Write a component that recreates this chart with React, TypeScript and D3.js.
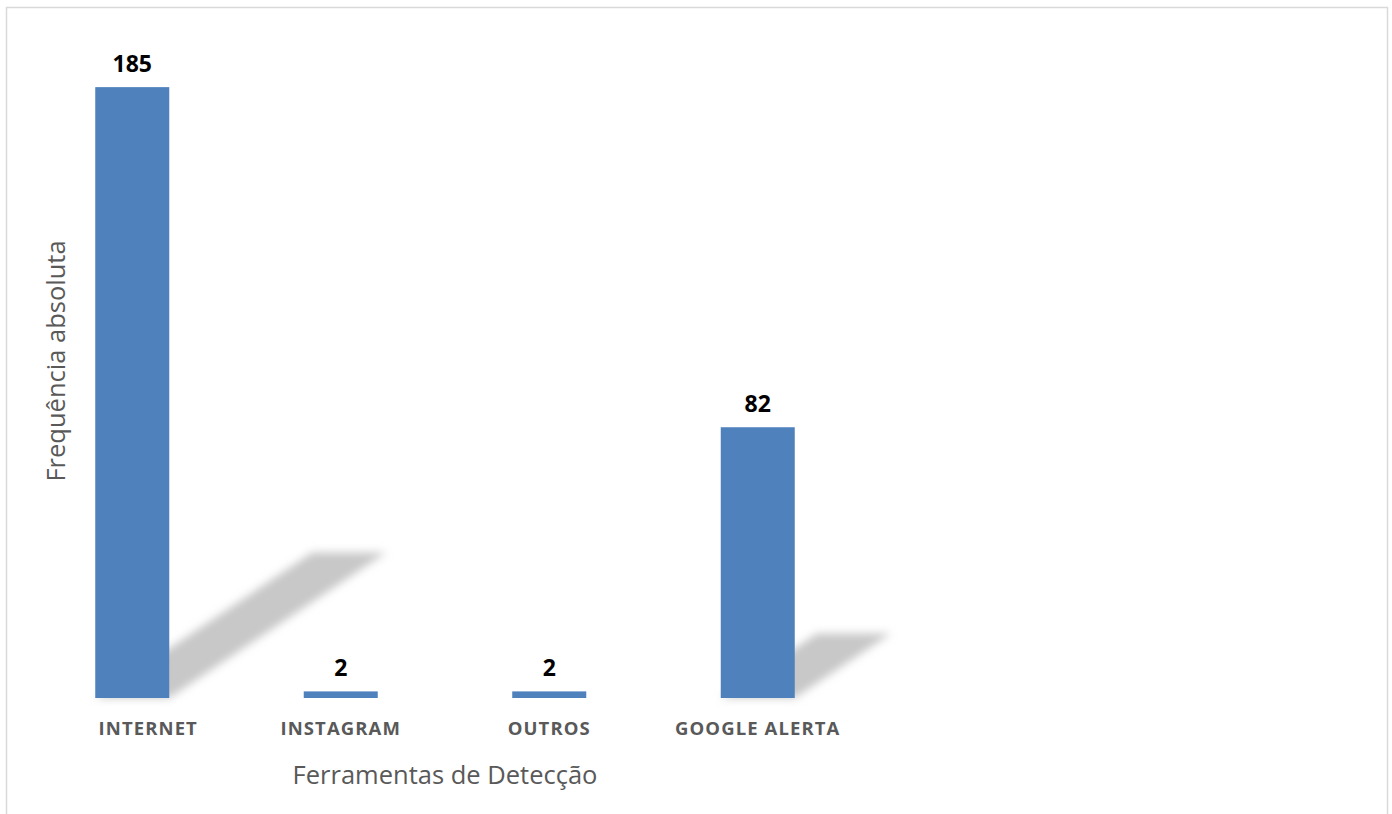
import React from "react";
import * as d3 from "d3";

const categories = ["INTERNET", "INSTAGRAM", "OUTROS", "GOOGLE ALERTA"];
const values = [185, 2, 2, 82];
const xTitle = "Ferramentas de Detecção";
const yTitle = "Frequência absoluta";

const W = 1392;
const H = 814;
// small horizontal nudge of the category labels (the first label sits right of its bar)
const labelNudge = [16, 0, 0, 0];

export default function App() {
  const x = d3
    .scaleBand<string>()
    .domain(categories)
    .range([28, 862])
    .paddingInner(0.645)
    .paddingOuter(0.3225);
  const y = d3.scaleLinear().domain([0, 200]).range([698, 37.6]);
  const base = y(0);
  const font = "'Open Sans', sans-serif";

  const shadowPath = (v: number, x0: number, x1: number) => {
    const h = base - y(v);
    const dx = h * 0.355;
    const dy = h * 0.238;
    const p = d3.path();
    p.moveTo(x0, base);
    p.lineTo(x1, base);
    p.lineTo(x1 + dx, base - dy);
    p.lineTo(x0 + dx, base - dy);
    p.closePath();
    return p.toString();
  };

  return (
    <svg
      width={W}
      height={H}
      style={{ position: "absolute", left: 0, top: 0, background: "#fff" }}
    >
      <defs>
        <filter id="blur" x="-20%" y="-20%" width="140%" height="140%">
          <feGaussianBlur stdDeviation="4" />
        </filter>
      </defs>
      <rect x={6.5} y={7.5} width={1381} height={830} fill="#fff" stroke="#d9d9d9" strokeWidth={1.5} />
      <g filter="url(#blur)">
        {categories.map((c, i) => {
          const x0 = x(c)!;
          const x1 = x0 + x.bandwidth();
          return values[i] > 10 ? (
            <path key={c} d={shadowPath(values[i], x0, x1)} fill="#c8c8c8" />
          ) : null;
        })}
      </g>
      {categories.map((c, i) => (
        <rect
          key={c}
          x={x(c)}
          y={y(values[i])}
          width={x.bandwidth()}
          height={base - y(values[i])}
          fill="#4f81bd"
        />
      ))}
      {categories.map((c, i) => (
        <text
          key={c}
          x={x(c)! + x.bandwidth() / 2}
          y={y(values[i]) - 15}
          textAnchor="middle"
          fontFamily={font}
          fontWeight="bold"
          fontSize={23}
          fill="#000"
        >
          {values[i]}
        </text>
      ))}
      {categories.map((c, i) => (
        <text
          key={c}
          x={x(c)! + x.bandwidth() / 2 + labelNudge[i]}
          y={735}
          textAnchor="middle"
          fontFamily={font}
          fontWeight="bold"
          fontSize={18.5}
          letterSpacing={1.1}
          fill="#595959"
        >
          {c}
        </text>
      ))}
      <text
        x={445}
        y={784}
        textAnchor="middle"
        fontFamily={font}
        fontSize={25.5}
        fill="#595959"
      >
        {xTitle}
      </text>
      <text
        transform={`translate(65,361) rotate(-90)`}
        textAnchor="middle"
        fontFamily={font}
        fontSize={25.5}
        fill="#595959"
      >
        {yTitle}
      </text>
    </svg>
  );
}
